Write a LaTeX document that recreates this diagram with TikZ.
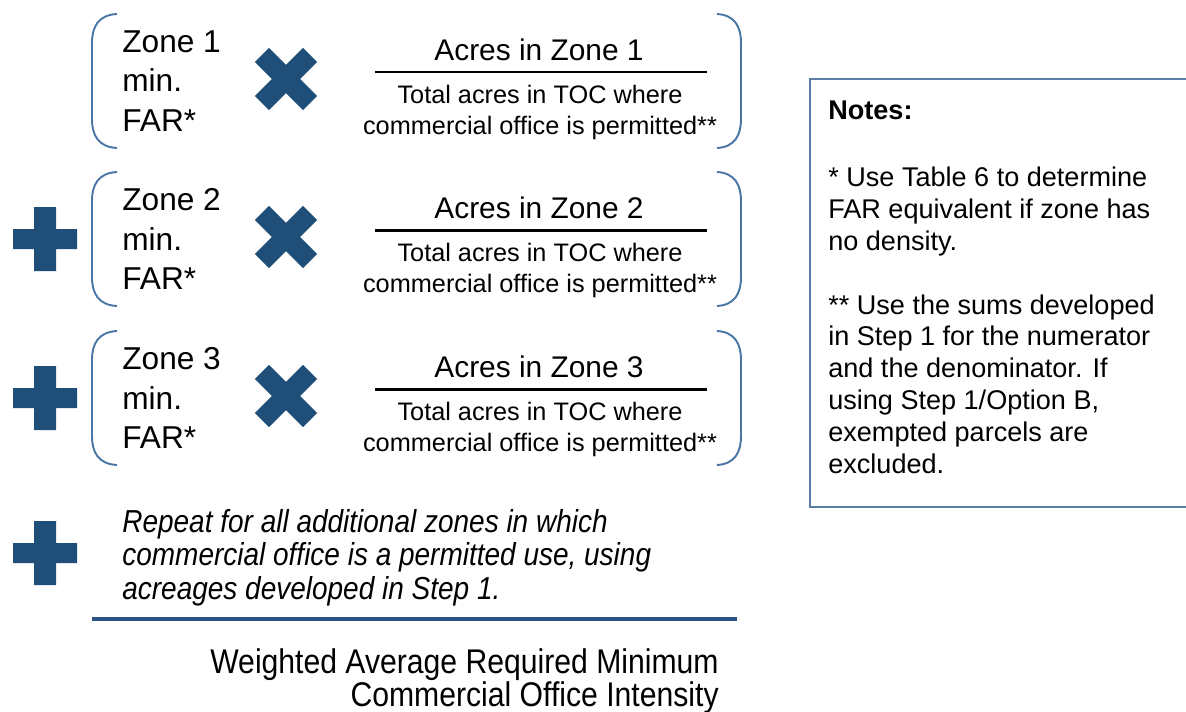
\documentclass[tikz,border=0pt]{standalone}
\usepackage{fontspec}
\setmainfont{Liberation Sans}
\newfontfamily\narrowsans[FakeStretch=0.88]{Liberation Sans}
\usepackage{tikz}
\usetikzlibrary{positioning}

\definecolor{markblue}{HTML}{1F4E79}
\definecolor{braceblue}{HTML}{4A76A6}
\definecolor{boxblue}{HTML}{5B7DA6}
\definecolor{lineblue}{HTML}{2A5283}

\begin{document}
\begin{tikzpicture}[
    x=0.02cm, y=-0.02cm,
    node distance=0.26cm,
    zone_style/.style={anchor=west, inner sep=0pt, align=left, font=\fontsize{18}{22.4}\selectfont},
    num_style/.style={anchor=base, inner sep=0pt, font=\fontsize{17}{20}\selectfont},
    den_style/.style={inner sep=0pt, align=center, font=\fontsize{14.4}{17.6}\selectfont},
    bar_style/.style={draw=black, line width=1.7pt},
    brace_style/.style={draw=braceblue, line width=1.1pt},
    plussym/.pic={\fill[markblue] (-32,-10) rectangle (32,10) (-11,-32) rectangle (11,32);},
    timessym/.pic={\fill[markblue, rotate=45] (-34,-10) rectangle (34,10) (-10,-34) rectangle (10,34);},
    lbrace/.pic={\draw[brace_style] (25,-67) .. controls (6,-66) and (0,-54) .. (0,-38) -- (0,38) .. controls (0,54) and (6,66) .. (25,67);},
    rbrace/.pic={\draw[brace_style] (-24,-67) .. controls (-6,-66) and (0,-54) .. (0,-38) -- (0,38) .. controls (0,54) and (-6,66) .. (-24,67);}
]
\useasboundingbox (0,0) rectangle (1186,711);

% Row 1
\pic at (92,81) {lbrace};
\pic at (741,81) {rbrace};
\node[zone_style] (zone1) at (122,81) {Zone 1\\min.\\FAR*};
\pic at (286,79) {timessym};
\node[num_style] (num1) at (539,60) {Acres in Zone 1};
\coordinate (bar1w) at (375,72);
\coordinate (bar1e) at (707,72);
\coordinate (bar1) at (540,72);
\draw[bar_style] (bar1w) -- (bar1e);
\node[den_style, below=of bar1] (den1) {Total acres in TOC where\\commercial office is permitted**};

% Row 2
\pic at (45,239) {plussym};
\pic at (92,239) {lbrace};
\pic at (741,239) {rbrace};
\node[zone_style] (zone2) at (122,239) {Zone 2\\min.\\FAR*};
\pic at (286,237) {timessym};
\node[num_style] (num2) at (539,218) {Acres in Zone 2};
\coordinate (bar2w) at (375,230);
\coordinate (bar2e) at (707,230);
\coordinate (bar2) at (540,230);
\draw[bar_style] (bar2w) -- (bar2e);
\node[den_style, below=of bar2] (den2) {Total acres in TOC where\\commercial office is permitted**};

% Row 3
\pic at (45,398) {plussym};
\pic at (92,398) {lbrace};
\pic at (741,398) {rbrace};
\node[zone_style] (zone3) at (122,398) {Zone 3\\min.\\FAR*};
\pic at (286,396) {timessym};
\node[num_style] (num3) at (539,377) {Acres in Zone 3};
\coordinate (bar3w) at (375,389);
\coordinate (bar3e) at (707,389);
\coordinate (bar3) at (540,389);
\draw[bar_style] (bar3w) -- (bar3e);
\node[den_style, below=of bar3] (den3) {Total acres in TOC where\\commercial office is permitted**};

% Additional zones
\pic at (45,553) {plussym};
\node[anchor=north west, inner sep=0pt, align=left, font=\narrowsans\itshape\fontsize{18.1}{19}\selectfont] (repeat) at (122,509)
    {Repeat for all additional zones in which\\commercial office is a permitted use, using\\acreages developed in Step 1.};

% Sum line and result
\coordinate (sumw) at (92,619);
\coordinate (sume) at (737,619);
\draw[lineblue, line width=2pt] (sumw) -- (sume);
\node[anchor=north east, inner sep=0pt, align=right, font=\narrowsans\fontsize{19.5}{18.7}\selectfont] (result) at (719,648)
    {Weighted Average Required Minimum\\Commercial Office Intensity};

% Notes box
\draw[boxblue, line width=1.1pt] (810,79) rectangle (1200,507);
\node[anchor=north west, inner sep=0pt, align=left, font=\fontsize{15.4}{18.1}\selectfont] (notes) at (828,101)
    {\textbf{Notes:}\\[20pt]
     * Use Table 6 to determine\\FAR equivalent if zone has\\no density.\\[18.1pt]
     ** Use the sums developed\\in Step 1 for the numerator\\and the denominator. If\\using Step 1/Option B,\\exempted parcels are\\excluded.};

\end{tikzpicture}
\end{document}
